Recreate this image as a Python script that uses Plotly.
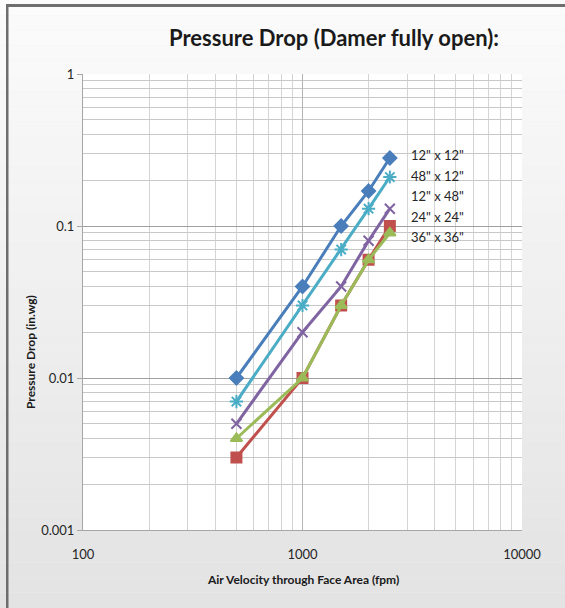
import plotly.graph_objects as go

velocity = [500, 1000, 1500, 2000, 2500]
series_names = ['12" x 12"', '48" x 12"', '12" x 48"', '24" x 24"', '36" x 36"']
s_12x12 = [0.01, 0.04, 0.1, 0.17, 0.28]
s_48x12 = [0.007, 0.03, 0.07, 0.13, 0.21]
s_12x48 = [0.005, 0.02, 0.04, 0.08, 0.13]
s_24x24 = [0.003, 0.01, 0.03, 0.06, 0.10]
s_36x36 = [0.004, 0.01, 0.03, 0.06, 0.09]
x_ticks = [100, 1000, 10000]
y_ticks = [0.001, 0.01, 0.1, 1]
y_tick_labels = ["0.001", "0.01", "0.1", "1"]

FONT = "Lato, Roboto, sans-serif"
W, H = 565, 608
L, R, T, B = 83, 522, 74, 530

def px(x):
    return (x - L) / (R - L)

def py(y):
    return (B - y) / (B - T)

styles = [
    (s_12x12, "#4A7EBB", "diamond", 10, 3),
    (s_24x24, "#C0504D", "square", 10, 3),
    (s_36x36, "#9BBB59", "triangle-up", 10, 3),
    (s_12x48, "#8064A2", "x-thin-open", 10, 3),
    (s_48x12, "#4BACC6", "asterisk-open", 11, 3),
]

fig = go.Figure()
for vals, col, sym, size, lw in styles:
    fig.add_trace(go.Scatter(
        x=velocity, y=vals, mode="lines+markers",
        line=dict(color=col, width=lw),
        marker=dict(symbol=sym, size=size, color=col, line=dict(color=col, width=2)),
        showlegend=False, hoverinfo="x+y"))

shapes = []
# background gradient
n = 40
for i in range(n):
    y0 = i * H / n
    y1 = (i + 1) * H / n
    t = i / (n - 1)
    c = int(round(251 - t * (251 - 227)))
    shapes.append(dict(type="rect", xref="paper", yref="paper", layer="below",
                       x0=px(0), x1=px(W), y0=py(y1), y1=py(y0),
                       fillcolor=f"rgb({c},{c},{c+1})", line=dict(width=0)))
# border lines
shapes.append(dict(type="rect", xref="paper", yref="paper", layer="below",
                   x0=px(6), x1=px(W), y0=py(7), y1=py(4),
                   fillcolor="#6e6e6e", line=dict(width=0)))
shapes.append(dict(type="rect", xref="paper", yref="paper", layer="below",
                   x0=px(6), x1=px(8.5), y0=py(H), y1=py(4),
                   fillcolor="#6e6e6e", line=dict(width=0)))
# plot area white
shapes.append(dict(type="rect", xref="paper", yref="paper", layer="below",
                   x0=0, x1=1, y0=0, y1=1, fillcolor="white", line=dict(width=0)))

annotations = [
    dict(text="<b>Pressure Drop (Damer fully open):</b>", xref="paper", yref="paper",
         x=px(334), y=py(38), showarrow=False, xanchor="center", yanchor="middle",
         font=dict(family=FONT, size=22, color="#1a1a1a")),
    dict(text="<b>Air Velocity through Face Area (fpm)</b>", xref="paper", yref="paper",
         x=px(303), y=py(579), showarrow=False, xanchor="center", yanchor="middle",
         font=dict(family=FONT, size=12, color="#1a1a1a")),
    dict(text="<b>Pressure Drop (in.wg)</b>", xref="paper", yref="paper",
         x=px(30), y=py(352), showarrow=False, xanchor="center", yanchor="middle",
         textangle=-90, font=dict(family=FONT, size=12, color="#1a1a1a")),
]
label_y = [155, 176, 196, 217, 237]
for name, yy in zip(series_names, label_y):
    annotations.append(dict(text=name, xref="paper", yref="paper", x=px(409), y=py(yy),
                            showarrow=False, xanchor="left", yanchor="middle",
                            font=dict(family=FONT, size=13, color="#262626")))

fig.update_layout(
    width=W, height=H,
    margin=dict(l=L, r=W - R, t=T, b=H - B, pad=0),
    paper_bgcolor="#eeeeee", plot_bgcolor="rgba(0,0,0,0)",
    shapes=shapes, annotations=annotations,
    xaxis=dict(type="log", range=[2, 4], tickvals=x_ticks, ticktext=[str(v) for v in x_ticks],
               showgrid=True, gridcolor="#b4b4b4", gridwidth=1,
               minor=dict(showgrid=True, dtick="D1", gridcolor="#d4d4d4", gridwidth=1, ticks=""),
               showline=True, linecolor="#a6a6a6", linewidth=1, ticks="", zeroline=False,
               tickfont=dict(family=FONT, size=13, color="#262626"), ticklabelstandoff=12),
    yaxis=dict(type="log", range=[-3, 0], tickvals=y_ticks, ticktext=y_tick_labels,
               showgrid=True, gridcolor="#a0a0a0", gridwidth=1,
               minor=dict(showgrid=True, dtick="D1", gridcolor="#c8c8c8", gridwidth=1, ticks=""),
               showline=True, linecolor="#a6a6a6", linewidth=1, ticks="outside", ticklen=5,
               tickcolor="#a6a6a6", zeroline=False,
               tickfont=dict(family=FONT, size=13, color="#262626")),
)
fig.write_html("out.html", config={"displayModeBar": False},
               post_script="document.body.style.margin='0';document.body.style.overflow='hidden';")
